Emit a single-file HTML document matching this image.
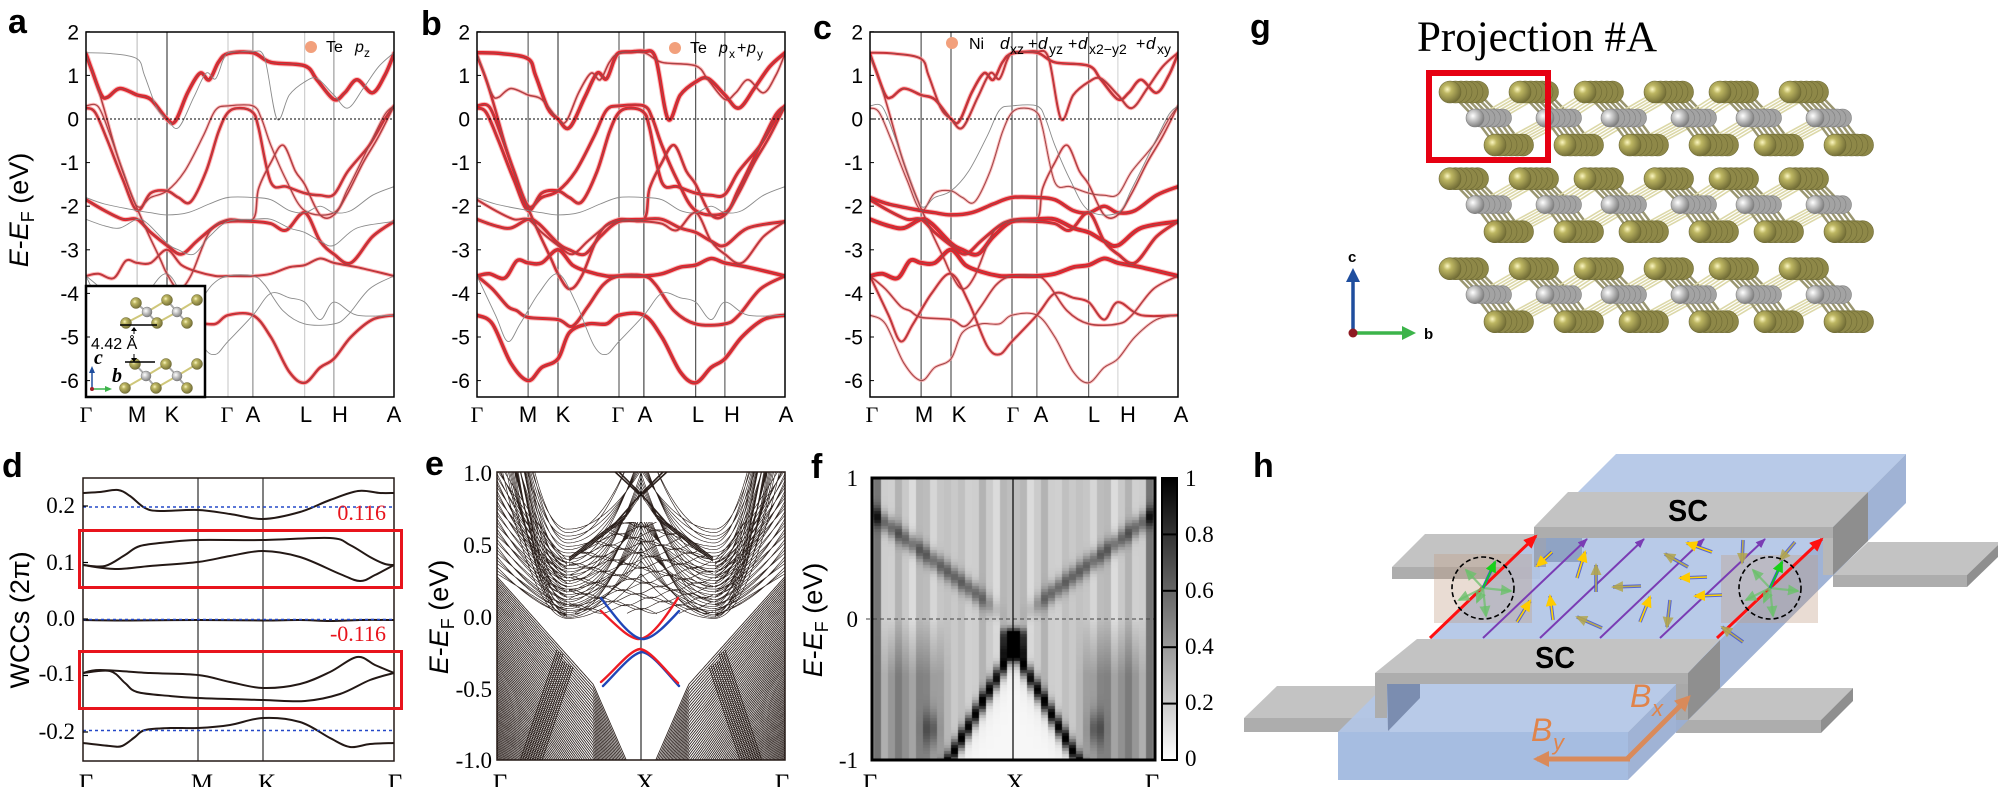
<!DOCTYPE html>
<html><head><meta charset="utf-8"><title>Figure</title>
<style>
html,body{margin:0;padding:0;background:#fff}
body{width:1998px;height:787px;overflow:hidden;position:relative}
#hm{position:absolute;left:872px;top:478px}
#s{position:absolute;left:0;top:0}
</style></head>
<body>
<canvas id="hm" width="283" height="282"></canvas>
<svg id="s" xmlns="http://www.w3.org/2000/svg" width="1998" height="787" viewBox="0 0 1998 787" font-family="'Liberation Sans', sans-serif">
<defs>
 <clipPath id="cA"><rect x="86" y="32" width="308" height="365"/></clipPath>
 <clipPath id="cB"><rect x="477" y="32" width="308" height="365"/></clipPath>
 <clipPath id="cC"><rect x="870" y="32" width="308" height="365"/></clipPath>
 <clipPath id="cD"><rect x="83" y="478" width="311" height="283"/></clipPath>
 <clipPath id="cE"><rect x="497" y="472" width="288" height="288"/></clipPath>
 <linearGradient id="cbg" x1="0" y1="0" x2="0" y2="1"><stop offset="0" stop-color="#000"/><stop offset="1" stop-color="#fff"/></linearGradient>
 <radialGradient id="gTe" cx=".38" cy=".38" r=".65"><stop offset="0" stop-color="#fbf6c0"/><stop offset=".3" stop-color="#bdb662"/><stop offset="1" stop-color="#726d36"/></radialGradient>
 <radialGradient id="gNi" cx=".38" cy=".38" r=".65"><stop offset="0" stop-color="#ffffff"/><stop offset=".35" stop-color="#cfcfcf"/><stop offset="1" stop-color="#7c7c7c"/></radialGradient>
 <marker id="mR" markerUnits="userSpaceOnUse" markerWidth="14" markerHeight="12" refX="12" refY="6" orient="auto" viewBox="0 0 14 12"><path d="M0,0L14,6L0,12z" fill="#ff1010"/></marker>
 <marker id="mP" markerUnits="userSpaceOnUse" markerWidth="10" markerHeight="8" refX="9" refY="4" orient="auto" viewBox="0 0 10 8"><path d="M0,0L10,4L0,8z" fill="#7a3cb4"/></marker>
 <marker id="mY" markerUnits="userSpaceOnUse" markerWidth="12" markerHeight="11" refX="10" refY="5.5" orient="auto" viewBox="0 0 12 11"><path d="M0,0L12,5.5L0,11z" fill="#ffcc00"/></marker>
 <marker id="mO" markerUnits="userSpaceOnUse" markerWidth="12" markerHeight="11" refX="10" refY="5.5" orient="auto" viewBox="0 0 12 11"><path d="M0,0L12,5.5L0,11z" fill="#b3a64e" fill-opacity=".85"/></marker>
 <marker id="mG" markerUnits="userSpaceOnUse" markerWidth="12" markerHeight="11" refX="10" refY="5.5" orient="auto" viewBox="0 0 12 11"><path d="M0,0L12,5.5L0,11z" fill="#18d018"/></marker>
 <marker id="mL" markerUnits="userSpaceOnUse" markerWidth="12" markerHeight="11" refX="10" refY="5.5" orient="auto" viewBox="0 0 12 11"><path d="M0,0L12,5.5L0,11z" fill="#6cc06c" fill-opacity=".8"/></marker>
 <marker id="mOr" markerUnits="userSpaceOnUse" markerWidth="16" markerHeight="16" refX="12" refY="8" orient="auto" viewBox="0 0 16 16"><path d="M0,0L16,8L0,16z" fill="#d98a5a"/></marker>
</defs>

<!-- ============ PANEL A ============ -->
<g stroke-width="1">
 <line x1="137.1" y1="32" x2="137.1" y2="397" stroke="#b8b8b8"/>
 <line x1="167" y1="32" x2="167" y2="397" stroke="#222"/>
 <line x1="228" y1="32" x2="228" y2="397" stroke="#c4c4c4"/>
 <line x1="252.9" y1="32" x2="252.9" y2="397" stroke="#7a7a7a"/>
 <line x1="304.7" y1="32" x2="304.7" y2="397" stroke="#c4c4c4"/>
 <line x1="333.9" y1="32" x2="333.9" y2="397" stroke="#8a8a8a"/>
</g>
<g id="bA" clip-path="url(#cA)"></g>
<line x1="86" y1="119" x2="394" y2="119" stroke="#000" stroke-width="1" stroke-dasharray="2 2"/>
<g>
 <rect x="86" y="286" width="119" height="111" fill="#fff" stroke="#000" stroke-width="2.5"/>
 <g stroke-width="2">
  <line x1="136" y1="303" x2="147" y2="312" stroke="#a9a9a9"/><line x1="147" y1="312" x2="157" y2="323" stroke="#a9a9a9"/>
  <line x1="167" y1="300" x2="177" y2="312" stroke="#a9a9a9"/><line x1="177" y1="312" x2="187" y2="323" stroke="#a9a9a9"/>
  <line x1="126" y1="323" x2="147" y2="312" stroke="#cfc77a"/><line x1="157" y1="323" x2="177" y2="312" stroke="#cfc77a"/>
  <line x1="147" y1="312" x2="167" y2="300" stroke="#cfc77a"/><line x1="177" y1="312" x2="197" y2="300" stroke="#cfc77a"/>
  <line x1="135" y1="364" x2="146" y2="376" stroke="#a9a9a9"/><line x1="146" y1="376" x2="156" y2="388" stroke="#a9a9a9"/>
  <line x1="166" y1="364" x2="177" y2="376" stroke="#a9a9a9"/><line x1="177" y1="376" x2="187" y2="388" stroke="#a9a9a9"/>
  <line x1="125" y1="388" x2="146" y2="376" stroke="#cfc77a"/><line x1="156" y1="388" x2="177" y2="376" stroke="#cfc77a"/>
  <line x1="146" y1="376" x2="166" y2="364" stroke="#cfc77a"/><line x1="177" y1="376" x2="197" y2="364" stroke="#cfc77a"/>
 </g>
 <g fill="url(#gTe)" stroke="#6d6934" stroke-width=".5">
  <circle cx="136" cy="303" r="5.5"/><circle cx="167" cy="300" r="5.5"/><circle cx="197" cy="300" r="5.5"/>
  <circle cx="126" cy="323" r="5.5"/><circle cx="157" cy="323" r="5.5"/><circle cx="187" cy="323" r="5.5"/>
  <circle cx="135" cy="364" r="5.5"/><circle cx="166" cy="364" r="5.5"/><circle cx="197" cy="364" r="5.5"/>
  <circle cx="125" cy="388" r="5.5"/><circle cx="156" cy="388" r="5.5"/><circle cx="187" cy="388" r="5.5"/>
 </g>
 <g fill="url(#gNi)" stroke="#777" stroke-width=".5">
  <circle cx="147" cy="312" r="5"/><circle cx="177" cy="312" r="5"/>
  <circle cx="146" cy="376" r="5"/><circle cx="177" cy="376" r="5"/>
 </g>
 <line x1="120" y1="325" x2="157" y2="325" stroke="#000" stroke-width="1.5"/>
 <line x1="125" y1="362" x2="155" y2="362" stroke="#000" stroke-width="1.5"/>
 <line x1="134" y1="328" x2="134" y2="334" stroke="#000" stroke-width="1"/>
 <path d="M131,331 L134,327 L137,331z" fill="#000"/>
 <line x1="134" y1="354" x2="134" y2="361" stroke="#000" stroke-width="1"/>
 <path d="M131,358 L134,362 L137,358z" fill="#000"/>
 <text x="91" y="349" font-size="16">4.42 Å</text>
 <text x="94" y="364" font-family="'Liberation Serif', serif" font-style="italic" font-weight="bold" font-size="20">c</text>
 <text x="112" y="382" font-family="'Liberation Serif', serif" font-style="italic" font-weight="bold" font-size="20">b</text>
 <line x1="92" y1="389" x2="92" y2="372" stroke="#1f4e9e" stroke-width="1.5"/><path d="M89,373 L92,366 L95,373z" fill="#1f4e9e"/>
 <line x1="92" y1="389" x2="106" y2="389" stroke="#3cb44a" stroke-width="1.5"/><path d="M105,386 L112,389 L105,392z" fill="#3cb44a"/>
 <circle cx="92" cy="389" r="2" fill="#a0202a"/>
</g>
<rect x="86" y="32" width="308" height="365" fill="none" stroke="#000" stroke-width="1.5"/>
<g stroke="#000" stroke-width="1">
 <line x1="86" y1="31.8" x2="90" y2="31.8"/><line x1="86" y1="75.4" x2="90" y2="75.4"/><line x1="86" y1="119" x2="90" y2="119"/><line x1="86" y1="162.6" x2="90" y2="162.6"/><line x1="86" y1="206.2" x2="90" y2="206.2"/><line x1="86" y1="249.8" x2="90" y2="249.8"/><line x1="86" y1="293.4" x2="90" y2="293.4"/><line x1="86" y1="337" x2="90" y2="337"/><line x1="86" y1="380.6" x2="90" y2="380.6"/>
</g>
<g font-size="21" text-anchor="end">
 <text x="79" y="39.3">2</text><text x="79" y="82.9">1</text><text x="79" y="126.5">0</text><text x="79" y="170.1">-1</text><text x="79" y="213.7">-2</text><text x="79" y="257.3">-3</text><text x="79" y="300.9">-4</text><text x="79" y="344.5">-5</text><text x="79" y="388.1">-6</text>
</g>
<g font-size="22" text-anchor="middle">
 <text x="86" y="422" font-family="'Liberation Serif', serif">Γ</text><text x="137" y="422">M</text><text x="172" y="422">K</text><text x="227" y="422" font-family="'Liberation Serif', serif">Γ</text><text x="253" y="422">A</text><text x="306" y="422">L</text><text x="340" y="422">H</text><text x="394" y="422">A</text>
</g>
<text transform="translate(28,210) rotate(-90)" text-anchor="middle" font-size="27"><tspan font-style="italic">E</tspan>-<tspan font-style="italic">E</tspan><tspan font-size="18" dy="6">F</tspan><tspan dy="-6"> (eV)</tspan></text>
<circle cx="311" cy="47" r="6" fill="#f2a07c"/>
<text x="326" y="52" font-size="16">Te</text><text x="355" y="52" font-size="16" font-style="italic">p</text><text x="364" y="57" font-size="12">z</text>
<text x="8" y="33" font-size="34" font-weight="bold">a</text>

<!-- ============ PANEL B ============ -->
<g stroke-width="1">
 <line x1="528.1" y1="32" x2="528.1" y2="397" stroke="#444"/>
 <line x1="558" y1="32" x2="558" y2="397" stroke="#222"/>
 <line x1="619" y1="32" x2="619" y2="397" stroke="#444"/>
 <line x1="643.9" y1="32" x2="643.9" y2="397" stroke="#222"/>
 <line x1="695.7" y1="32" x2="695.7" y2="397" stroke="#333"/>
 <line x1="724.9" y1="32" x2="724.9" y2="397" stroke="#444"/>
</g>
<g id="bB" clip-path="url(#cB)"></g>
<line x1="477" y1="119" x2="785" y2="119" stroke="#000" stroke-width="1" stroke-dasharray="2 2"/>
<rect x="477" y="32" width="308" height="365" fill="none" stroke="#000" stroke-width="1.5"/>
<g stroke="#000" stroke-width="1">
 <line x1="477" y1="31.8" x2="481" y2="31.8"/><line x1="477" y1="75.4" x2="481" y2="75.4"/><line x1="477" y1="119" x2="481" y2="119"/><line x1="477" y1="162.6" x2="481" y2="162.6"/><line x1="477" y1="206.2" x2="481" y2="206.2"/><line x1="477" y1="249.8" x2="481" y2="249.8"/><line x1="477" y1="293.4" x2="481" y2="293.4"/><line x1="477" y1="337" x2="481" y2="337"/><line x1="477" y1="380.6" x2="481" y2="380.6"/>
</g>
<g font-size="21" text-anchor="end">
 <text x="470" y="39.3">2</text><text x="470" y="82.9">1</text><text x="470" y="126.5">0</text><text x="470" y="170.1">-1</text><text x="470" y="213.7">-2</text><text x="470" y="257.3">-3</text><text x="470" y="300.9">-4</text><text x="470" y="344.5">-5</text><text x="470" y="388.1">-6</text>
</g>
<g font-size="22" text-anchor="middle">
 <text x="477" y="422" font-family="'Liberation Serif', serif">Γ</text><text x="528" y="422">M</text><text x="563" y="422">K</text><text x="618" y="422" font-family="'Liberation Serif', serif">Γ</text><text x="645" y="422">A</text><text x="698" y="422">L</text><text x="732" y="422">H</text><text x="786" y="422">A</text>
</g>
<circle cx="675" cy="48" r="6" fill="#f2a07c"/>
<text x="690" y="53" font-size="16">Te</text><text x="719" y="53" font-size="16" font-style="italic">p</text><text x="729" y="58" font-size="12">x</text><text x="737" y="53" font-size="16">+</text><text x="747" y="53" font-size="16" font-style="italic">p</text><text x="757" y="58" font-size="12">y</text>
<text x="421" y="35" font-size="34" font-weight="bold">b</text>

<!-- ============ PANEL C ============ -->
<g stroke-width="1">
 <line x1="921.1" y1="32" x2="921.1" y2="397" stroke="#333"/>
 <line x1="951" y1="32" x2="951" y2="397" stroke="#333"/>
 <line x1="1012" y1="32" x2="1012" y2="397" stroke="#333"/>
 <line x1="1036.9" y1="32" x2="1036.9" y2="397" stroke="#555"/>
 <line x1="1088.7" y1="32" x2="1088.7" y2="397" stroke="#444"/>
 <line x1="1117.9" y1="32" x2="1117.9" y2="397" stroke="#cfcfcf"/>
</g>
<g id="bC" clip-path="url(#cC)"></g>
<line x1="870" y1="119" x2="1178" y2="119" stroke="#000" stroke-width="1" stroke-dasharray="2 2"/>
<rect x="870" y="32" width="308" height="365" fill="none" stroke="#000" stroke-width="1.5"/>
<g stroke="#000" stroke-width="1">
 <line x1="870" y1="31.8" x2="874" y2="31.8"/><line x1="870" y1="75.4" x2="874" y2="75.4"/><line x1="870" y1="119" x2="874" y2="119"/><line x1="870" y1="162.6" x2="874" y2="162.6"/><line x1="870" y1="206.2" x2="874" y2="206.2"/><line x1="870" y1="249.8" x2="874" y2="249.8"/><line x1="870" y1="293.4" x2="874" y2="293.4"/><line x1="870" y1="337" x2="874" y2="337"/><line x1="870" y1="380.6" x2="874" y2="380.6"/>
</g>
<g font-size="21" text-anchor="end">
 <text x="863" y="39.3">2</text><text x="863" y="82.9">1</text><text x="863" y="126.5">0</text><text x="863" y="170.1">-1</text><text x="863" y="213.7">-2</text><text x="863" y="257.3">-3</text><text x="863" y="300.9">-4</text><text x="863" y="344.5">-5</text><text x="863" y="388.1">-6</text>
</g>
<g font-size="22" text-anchor="middle">
 <text x="872" y="422" font-family="'Liberation Serif', serif">Γ</text><text x="924" y="422">M</text><text x="959" y="422">K</text><text x="1013" y="422" font-family="'Liberation Serif', serif">Γ</text><text x="1041" y="422">A</text><text x="1094" y="422">L</text><text x="1128" y="422">H</text><text x="1181" y="422">A</text>
</g>
<circle cx="952" cy="43" r="6" fill="#f2a07c"/>
<g font-size="16">
 <text x="969" y="49">Ni</text>
 <text x="1000" y="49" font-style="italic" font-size="17">d</text><text x="1010" y="54" font-size="14">xz</text>
 <text x="1028" y="49">+</text>
 <text x="1038" y="49" font-style="italic" font-size="17">d</text><text x="1049" y="54" font-size="14">yz</text>
 <text x="1068" y="49">+</text>
 <text x="1078" y="49" font-style="italic" font-size="17">d</text><text x="1089" y="54" font-size="14">x2−y2</text>
 <text x="1136" y="49">+</text>
 <text x="1146" y="49" font-style="italic" font-size="17">d</text><text x="1157" y="54" font-size="14">xy</text>
</g>
<text x="813" y="39" font-size="34" font-weight="bold">c</text>

<!-- ============ PANEL D ============ -->
<line x1="198" y1="478" x2="198" y2="761" stroke="#000" stroke-width="1"/>
<line x1="263" y1="478" x2="263" y2="761" stroke="#000" stroke-width="1"/>
<g id="gD" clip-path="url(#cD)"></g>
<g stroke="#2348c8" stroke-width="1.4" stroke-dasharray="3 3">
 <line x1="83" y1="507" x2="394" y2="507"/><line x1="83" y1="619.5" x2="394" y2="619.5"/><line x1="83" y1="730.5" x2="394" y2="730.5"/>
</g>
<rect x="83" y="478" width="311" height="283" fill="none" stroke="#231815" stroke-width="1.5"/>
<g stroke="#000" stroke-width="1.2">
 <line x1="83" y1="506" x2="88" y2="506"/><line x1="83" y1="562.5" x2="88" y2="562.5"/><line x1="83" y1="619" x2="88" y2="619"/><line x1="83" y1="675.5" x2="88" y2="675.5"/><line x1="83" y1="732" x2="88" y2="732"/>
</g>
<rect x="79.5" y="530.5" width="322" height="57" fill="none" stroke="#e8141c" stroke-width="3"/>
<rect x="79.5" y="651.5" width="322" height="57" fill="none" stroke="#e8141c" stroke-width="3"/>
<g font-family="'Liberation Serif', serif" font-size="23" text-anchor="end">
 <text x="75" y="513">0.2</text><text x="75" y="570">0.1</text><text x="75" y="626">0.0</text><text x="75" y="681">-0.1</text><text x="75" y="739">-0.2</text>
</g>
<g font-family="'Liberation Serif', serif" font-size="22" fill="#e8141c" text-anchor="end">
 <text x="386" y="520">0.116</text><text x="386" y="641">-0.116</text>
</g>
<g font-family="'Liberation Serif', serif" font-size="25" text-anchor="middle">
 <text x="86" y="791">Γ</text><text x="202" y="791">M</text><text x="267" y="791">K</text><text x="395" y="791">Γ</text>
</g>
<text transform="translate(29,620) rotate(-90)" text-anchor="middle" font-size="27">WCCs (2π)</text>
<text x="2" y="477" font-size="34" font-weight="bold">d</text>

<!-- ============ PANEL E ============ -->
<g id="gE" clip-path="url(#cE)"></g>
<line x1="641" y1="472" x2="641" y2="760" stroke="#000" stroke-width="1"/>
<g fill="none" stroke-width="2.4" stroke-linecap="round">
 <path d="M601,611 C615,624 628,638 638,639 C650,640 665,618 678,598" stroke="#ee1c24"/>
 <path d="M601,598 C616,618 632,640 644,639 C654,638 667,624 679,611" stroke="#2046b8"/>
 <path d="M603,686 C617,672 632,653 642,652 C652,653 667,673 679,686" stroke="#2046b8"/>
 <path d="M601,682 C615,670 630,650 640,649 C650,650 665,670 678,683" stroke="#ee1c24"/>
</g>
<rect x="497" y="472" width="288" height="288" fill="none" stroke="#231815" stroke-width="1.5"/>
<g font-family="'Liberation Serif', serif" font-size="23" text-anchor="end">
 <text x="492" y="481">1.0</text><text x="492" y="553">0.5</text><text x="492" y="625">0.0</text><text x="492" y="697">-0.5</text><text x="492" y="768">-1.0</text>
</g>
<g font-family="'Liberation Serif', serif" font-size="25" text-anchor="middle">
 <text x="500" y="791">Γ</text><text x="645" y="791">X</text><text x="782" y="791">Γ</text>
</g>
<text transform="translate(448,617) rotate(-90)" text-anchor="middle" font-size="27"><tspan font-style="italic">E</tspan>-<tspan font-style="italic">E</tspan><tspan font-size="18" dy="6">F</tspan><tspan dy="-6"> (eV)</tspan></text>
<text x="425" y="475" font-size="34" font-weight="bold">e</text>

<!-- ============ PANEL F ============ -->
<line x1="866" y1="619" x2="1155" y2="619" stroke="#444" stroke-width="1" stroke-dasharray="4 3"/>
<line x1="1013" y1="478" x2="1013" y2="760" stroke="#000" stroke-width="1.2"/>
<rect x="872" y="478" width="283" height="282" fill="none" stroke="#000" stroke-width="3"/>
<rect x="1162" y="478" width="15" height="282" fill="url(#cbg)" stroke="#000" stroke-width="2"/>
<g stroke="#000" stroke-width="2">
 <line x1="1162" y1="534.4" x2="1177" y2="534.4"/><line x1="1162" y1="590.8" x2="1177" y2="590.8"/><line x1="1162" y1="647.2" x2="1177" y2="647.2"/><line x1="1162" y1="703.6" x2="1177" y2="703.6"/>
</g>
<g font-family="'Liberation Serif', serif" font-size="23">
 <text x="1185" y="486">1</text><text x="1185" y="542">0.8</text><text x="1185" y="598">0.6</text><text x="1185" y="654">0.4</text><text x="1185" y="710">0.2</text><text x="1185" y="766">0</text>
</g>
<g font-family="'Liberation Serif', serif" font-size="23" text-anchor="end">
 <text x="858" y="486">1</text><text x="858" y="627">0</text><text x="858" y="768">-1</text>
</g>
<g font-family="'Liberation Serif', serif" font-size="25" text-anchor="middle">
 <text x="870" y="791">Γ</text><text x="1015" y="791">X</text><text x="1152" y="791">Γ</text>
</g>
<text transform="translate(822,620) rotate(-90)" text-anchor="middle" font-size="27"><tspan font-style="italic">E</tspan>-<tspan font-style="italic">E</tspan><tspan font-size="18" dy="6">F</tspan><tspan dy="-6"> (eV)</tspan></text>
<text x="811" y="478" font-size="34" font-weight="bold">f</text>

<!-- ============ PANEL G ============ -->
<text x="1250" y="38" font-size="34" font-weight="bold">g</text>
<text x="1417" y="51" font-family="'Liberation Serif', serif" font-size="43">Projection #A</text>
<g id="gG"></g>
<rect x="1429" y="73" width="119" height="87" fill="none" stroke="#e60012" stroke-width="6"/>
<line x1="1353" y1="333" x2="1353" y2="280" stroke="#1f4e9e" stroke-width="3.5"/>
<path d="M1346,282 L1353,268 L1360,282z" fill="#1f4e9e"/>
<line x1="1353" y1="333" x2="1404" y2="333" stroke="#3cb44a" stroke-width="3.5"/>
<path d="M1402,326 L1416,333 L1402,340z" fill="#3cb44a"/>
<circle cx="1353" cy="333" r="4.5" fill="#8e1a22"/>
<text x="1348" y="262" font-size="15" font-weight="bold">c</text>
<text x="1424" y="339" font-size="15" font-weight="bold">b</text>

<!-- ============ PANEL H ============ -->
<text x="1253" y="477" font-size="34" font-weight="bold">h</text>
<g>
 <polygon points="1833,575 1868,542 1998,542 1998,545 1967,575" fill="#c3c3c3"/>
 <polygon points="1967,575 1998,545 1998,557 1967,587" fill="#8f8f8f"/>
 <rect x="1833" y="575" width="134" height="12" fill="#adadad"/>
 <polygon points="1392,567 1425,534 1540,534 1540,567" fill="#c3c3c3"/>
 <rect x="1392" y="567" width="148" height="12" fill="#adadad"/>
 <polygon points="1244,718 1277,686 1390,686 1390,718" fill="#c3c3c3"/>
 <rect x="1244" y="718" width="146" height="14" fill="#adadad"/>
 <polygon points="1688,720 1720,688 1853,688 1821,720" fill="#c3c3c3"/>
 <polygon points="1821,720 1853,688 1853,701 1821,733" fill="#8f8f8f"/>
 <rect x="1676" y="720" width="145" height="13" fill="#adadad"/>
 <polygon points="1338,732 1628,732 1906,454 1616,454" fill="#b3c6e6" fill-opacity=".93"/>
 <polygon points="1628,732 1906,454 1906,503 1628,780" fill="#9bafd3" fill-opacity=".95"/>
 <rect x="1338" y="732" width="290" height="48" fill="#a1b9df" fill-opacity=".95"/>
 <polygon points="1688,673 1720,640 1720,688 1688,720" fill="#8f8f8f"/>
 <polygon points="1375,673 1417,639 1720,639 1688,673" fill="#c3c3c3"/>
 <rect x="1375" y="673" width="313" height="11" fill="#adadad"/>
 <rect x="1375" y="684" width="12" height="34" fill="#adadad"/>
 <rect x="1676" y="684" width="12" height="36" fill="#a9a9a9"/>
 <polygon points="1387,684 1420,684 1420,698 1388,731" fill="#7b8db0"/>
 <polygon points="1833,527 1868,492 1868,541 1833,575" fill="#8e8e8e"/>
 <polygon points="1534,527 1568,492 1868,492 1833,527" fill="#c3c3c3"/>
 <rect x="1534" y="527" width="299" height="11" fill="#adadad"/>
 <rect x="1823" y="538" width="10" height="37" fill="#b8b8b8"/>
 <rect x="1534" y="538" width="12" height="29" fill="#9aa3b6"/>
 <polygon points="1546,538 1582,538 1582,562 1546,562" fill="#7f93b5" fill-opacity=".7"/>
</g>
<rect x="1434" y="554" width="98" height="69" fill="#bf9a80" fill-opacity=".35"/>
<rect x="1721" y="555" width="97" height="68" fill="#bf9a80" fill-opacity=".35"/>
<g stroke="#7a3cb4" stroke-width="2" marker-end="url(#mP)">
 <line x1="1483" y1="638" x2="1587" y2="539"/><line x1="1540" y1="638" x2="1644" y2="539"/><line x1="1600" y1="638" x2="1704" y2="539"/><line x1="1660" y1="638" x2="1765" y2="539"/>
</g>
<g stroke="#ff1010" stroke-width="3" marker-end="url(#mR)">
 <line x1="1430" y1="638" x2="1536" y2="536"/><line x1="1717" y1="638" x2="1822" y2="539"/>
</g>
<g id="gH"></g>
<circle cx="1483" cy="588" r="31" fill="none" stroke="#000" stroke-width="1.6" stroke-dasharray="5 3"/>
<circle cx="1770" cy="588" r="31" fill="none" stroke="#000" stroke-width="1.6" stroke-dasharray="5 3"/>
<g stroke="#d98a5a" stroke-width="5" marker-end="url(#mOr)">
 <line x1="1630" y1="759" x2="1537" y2="759"/><line x1="1627" y1="759" x2="1688" y2="698"/>
</g>
<g fill="#e0844a" font-style="italic">
 <text x="1630" y="707" font-size="32">B</text><text x="1652" y="716" font-size="22">x</text>
 <text x="1531" y="741" font-size="32">B</text><text x="1553" y="750" font-size="22">y</text>
</g>
<text x="1688" y="521" font-size="31" font-weight="bold" text-anchor="middle" textLength="40" lengthAdjust="spacingAndGlyphs">SC</text>
<text x="1555" y="668" font-size="31" font-weight="bold" text-anchor="middle" textLength="40" lengthAdjust="spacingAndGlyphs">SC</text>
</svg>

<script>
(function(){
var NS='http://www.w3.org/2000/svg';
function el(tag,a,p){var e=document.createElementNS(NS,tag);for(var k in a)e.setAttribute(k,a[k]);p.appendChild(e);return e;}
function cr(pts){var d='M'+pts[0][0].toFixed(1)+','+pts[0][1].toFixed(1);for(var i=0;i<pts.length-1;i++){var p0=pts[i-1]||pts[i],p1=pts[i],p2=pts[i+1],p3=pts[i+2]||pts[i+1];var c1x=p1[0]+(p2[0]-p0[0])/6,c1y=p1[1]+(p2[1]-p0[1])/6,c2x=p2[0]-(p3[0]-p1[0])/6,c2y=p2[1]-(p3[1]-p1[1])/6;d+='C'+c1x.toFixed(1)+','+c1y.toFixed(1)+' '+c2x.toFixed(1)+','+c2y.toFixed(1)+' '+p2[0].toFixed(1)+','+p2[1].toFixed(1);}return d;}

/* ---------- bands a,b,c ---------- */
var B=[
[[0,1.52],[.08,1.5],[.166,1.38],[.19,1.0],[.23,.25],[.263,0],[.3,-.2],[.35,.5],[.39,1.05],[.42,.92],[.445,1.35],[.461,1.52],[.5,1.54],[.542,1.55],[.58,1.4],[.62,0],[.66,.55],[.71,.85],[.75,.93],[.805,.55],[.85,.25],[.9,.7],[.95,1.2],[1,1.52]],
[[0,1.5],[.02,1.1],[.05,.55],[.07,.5],[.11,.7],[.166,.55],[.21,.45],[.263,0],[.29,-.05],[.33,.6],[.37,1.05],[.4,.9],[.43,1.3],[.461,1.5],[.542,1.52],[.6,1.3],[.71,1.22],[.75,.9],[.805,.45],[.84,.6],[.88,.9],[.93,.6],[.97,1.0],[1,1.5]],
[[0,.3],[.04,.28],[.08,-.4],[.12,-1.2],[.166,-2.0],[.21,-1.8],[.263,-1.65],[.32,-1.2],[.38,-.4],[.42,.2],[.461,.3],[.542,.3],[.57,0],[.6,-.6],[.65,-1.4],[.71,-2.1],[.805,-2.15],[.85,-1.6],[.92,-.6],[.97,.1],[1,.3]],
[[0,.25],[.03,.15],[.07,-.5],[.12,-1.4],[.166,-2.1],[.21,-1.7],[.263,-1.65],[.3,-1.8],[.34,-1.9],[.39,-1.2],[.43,-.3],[.461,.15],[.5,.25],[.542,.15],[.56,-.2],[.6,-1.45],[.65,-1.55],[.71,-1.7],[.76,-1.75],[.805,-1.73],[.85,-1.2],[.92,-.6],[.97,0],[1,.3]],
[[0,-1.8],[.06,-1.95],[.166,-2.1],[.21,-2.15],[.263,-2.2],[.33,-2.15],[.4,-1.95],[.461,-1.8],[.542,-1.8],[.6,-1.85],[.66,-2.1],[.71,-2.15],[.76,-2.0],[.805,-2.15],[.86,-2.1],[.93,-1.75],[1,-1.55]],
[[0,-1.85],[.06,-2.1],[.12,-2.3],[.166,-2.3],[.21,-2.6],[.263,-2.9],[.31,-3.1],[.36,-2.8],[.42,-2.45],[.461,-2.35],[.542,-2.35],[.6,-2.4],[.65,-2.55],[.71,-2.15],[.76,-2.8],[.805,-3.1],[.86,-3.3],[.93,-2.7],[1,-2.35]],
[[0,-2.3],[.06,-2.45],[.11,-2.5],[.166,-2.3],[.2,-2.4],[.263,-2.85],[.3,-3.0],[.35,-3.1],[.4,-2.7],[.461,-2.35],[.542,-2.3],[.6,-2.3],[.66,-2.5],[.71,-2.6],[.76,-2.8],[.805,-2.9],[.88,-2.5],[1,-2.35]],
[[0,-3.6],[.04,-3.55],[.09,-3.65],[.13,-3.25],[.166,-3.3],[.21,-3.3],[.263,-3.0],[.31,-3.35],[.36,-3.5],[.42,-3.6],[.461,-3.6],[.542,-3.6],[.6,-3.55],[.66,-3.4],[.71,-3.35],[.76,-3.2],[.805,-3.3],[.88,-3.4],[1,-3.6]],
[[0,-3.6],[.05,-3.9],[.1,-4.3],[.13,-4.4],[.166,-4.55],[.263,-4.6],[.31,-4.75],[.36,-4.3],[.41,-3.8],[.461,-3.6],[.542,-3.6],[.58,-3.8],[.64,-4.4],[.71,-4.7],[.805,-4.7],[.85,-4.5],[.92,-3.9],[1,-3.6]],
[[0,-4.5],[.05,-4.7],[.11,-5.6],[.166,-6.0],[.21,-5.7],[.263,-5.5],[.3,-4.9],[.36,-4.7],[.42,-4.7],[.461,-4.5],[.542,-4.5],[.6,-5.0],[.66,-5.8],[.71,-6.05],[.76,-5.7],[.805,-5.5],[.86,-5.0],[.93,-4.6],[1,-4.5]],
[[0,-3.6],[.06,-4.5],[.1,-5.1],[.14,-4.7],[.2,-4.0],[.263,-3.55],[.32,-4.2],[.38,-5.2],[.42,-5.4],[.461,-5.1],[.542,-4.5],[.6,-4.0],[.66,-4.1],[.71,-4.2],[.76,-4.6],[.805,-4.2],[.88,-4.5],[1,-4.5]],
[[0,1.45],[.03,.9],[.06,.2],[.1,-.8],[.14,-1.6],[.166,-2.05],[.2,-2.6],[.24,-3.2],[.263,-3.55],[.3,-3.9],[.34,-3.6],[.4,-2.6],[.461,-2.3],[.542,-2.3],[.56,-1.6],[.6,-1.0],[.64,-.6],[.68,-1.2],[.71,-1.5],[.76,-2.2],[.805,-2.2],[.85,-1.7],[.9,-1.0],[.95,-.4],[1,.3]]
];
var P=[['bA',86,[0,3.5,1.2,2.5,0,3,0,2,0,2.5,0,1.5]],['bB',477,[3.5,1.5,3,3,0,2,3,3.5,3,3.5,0,2.5]],['bC',870,[2,2.5,0,1,3.5,3,4,4,1.5,1,2,1.5]]];
P.forEach(function(pp){
 var g=document.getElementById(pp[0]),x0=pp[1],w=pp[2];
 var ds=B.map(function(b){return cr(b.map(function(p){return [x0+308*p[0],119-43.6*p[1]];}));});
 ds.forEach(function(d,i){if(w[i]>0)el('path',{d:d,fill:'none',stroke:'#f5a0a0','stroke-width':w[i]+2,'stroke-opacity':.65,'stroke-linecap':'round'},g);});
 ds.forEach(function(d,i){if(w[i]>0)el('path',{d:d,fill:'none',stroke:'#e3222b','stroke-width':w[i],'stroke-linecap':'round'},g);});
 ds.forEach(function(d,i){el('path',{d:d,fill:'none',stroke:w[i]>0?'#8a5555':'#8a8a8a','stroke-width':w[i]>0?.7:.9},g);});
});

/* ---------- WCC panel d ---------- */
var WC=[
[[83,493],[100,492],[118,490],[130,496],[145,508],[160,511],[198,510],[230,514],[263,519],[300,512],[330,500],[358,491],[380,493],[394,493]],
[[83,565],[105,566],[125,555],[140,546],[170,542],[198,540],[263,540],[330,538],[350,545],[370,557],[385,564],[394,565]],
[[83,565],[115,569],[150,566],[198,562],[230,556],[263,551],[300,557],[340,574],[360,581],[375,575],[394,565]],
[[83,620],[130,620.5],[198,620],[263,620.5],[300,620],[330,621],[360,620],[394,620]],
[[83,673],[100,670],[150,673],[198,675],[230,682],[263,688],[300,684],[330,672],[357,657],[375,665],[394,673]],
[[83,673],[110,671],[125,683],[137,692],[170,696],[198,698],[263,700],[305,701],[340,694],[370,680],[394,673]],
[[83,743],[110,746],[122,746],[135,737],[145,730],[170,728],[198,728],[230,725],[263,718],[300,722],[330,738],[350,747],[370,744],[394,743]]
];
var gD=document.getElementById('gD');
WC.forEach(function(c){el('path',{d:cr(c),fill:'none',stroke:'#231815','stroke-width':2},gD);});

/* ---------- panel e ---------- */
var gE=document.getElementById('gE');
function ey(E){return 617-144*E;}
function pl(fn){var s='',pen=false;for(var px=497;px<=785;px+=2){var u=Math.abs(px-641)/144;var E=fn(u,px);if(E===null||E>1.1||E<-1.1){pen=false;continue;}s+=(pen?'L':'M')+px+','+ey(E).toFixed(1);pen=true;}return s;}
function V(u){return u<0.1?0.69:0.69-(u-0.1)*0.756;}
var D='',DV='',DVal='';
for(var i=0;i<34;i++){(function(i){var e=-0.01+0.62*Math.pow(i/33,1.3),A=5+4*((i*0.618)%1),Cc=1.2+2.0*((i*0.43)%1);D+=pl(function(u){return u>=0.51?e+A*(u-0.51)*(u-0.51):e+Cc*(0.51-u)*(0.51-u);});})(i);}
for(var k=0;k<34;k++){(function(k){var g=0.3+k*0.024,h=0.0+k*0.012,p=1+((k*0.37)%1)*0.8;D+=pl(function(u){return u>=0.51?h+(g-h)*Math.pow((u-0.51)/0.49,p):null;});})(k);}
for(var j=0;j<26;j++){(function(j){var Ej=0.03+j*0.026;D+=pl(function(u,px){if(u>0.5)return null;var E=Ej+0.03*Math.sin(px*0.12+j*1.7);return (E<V(u)&&E>0.02)?E:null;});})(j);}
function T(u){return u>=0.33?-0.47+(u-0.33)*1.12:-0.47-(0.33-u)*2.3;}
for(var m=0;m<90;m++){(function(m){var dk=m*0.016;DVal+=pl(function(u){return T(u)-dk*(1+0.6*(1-u));});})(m);}
for(var k2=0;k2<10;k2++){(function(k){DVal+=pl(function(u){var E=-0.16-0.05*k-3*(u-0.56);return (u>0.3&&E<T(u)-0.02)?E:null;});})(k2);}
el('path',{d:D,fill:'none',stroke:'#2a1f1b','stroke-width':.62},gE);
el('path',{d:DVal,fill:'none',stroke:'#2a1f1b','stroke-width':.85},gE);
for(var q=0;q<3;q++){DV+=pl(function(u){return u<0.51?V(u)+q*0.012:null;});}
el('path',{d:DV,fill:'none',stroke:'#2a1f1b','stroke-width':1.2},gE);
el('polygon',{points:'623,522 659,522 641,496',fill:'#fff'},gE);
el('path',{d:'M641,494 L617,470 M641,494 L665,470 M641,494 L611,528 M641,494 L671,528 M639,494 L613,470 M643,494 L669,470',fill:'none',stroke:'#2a1f1b','stroke-width':1.6},gE);

/* ---------- panel f heatmap ---------- */
var cv=document.getElementById('hm');
if(cv&&cv.getContext){
 var cx=cv.getContext('2d');var Wd=283,Ht=282;var im=cx.createImageData(Wd,Ht);
 function ga(d,s){return Math.exp(-d*d/(2*s*s));}
 function cl(v,a,b){return Math.max(a,Math.min(b,v));}
 for(var py=0;py<Ht;py++){
  var E=1-2*(Math.floor(py/3)*3+1.5)/Ht;
  for(var px=0;px<Wd;px++){
   var dx=Math.abs(px+0.5-141.5);var c=Math.floor(dx/7);var ax=cl((c*7+3.5)/141.5,0,1);
   var v=0.22+0.05*Math.sin(c*2.1)+0.04*Math.cos(c*4.7+0.5);
   var Eu=0.78*ax-0.03,El=-0.2-1.75*ax;
   v+=0.4*ga(E-Eu,0.05)*cl((ax-0.06)/0.2,0,1);
   v+=0.22*cl(-E/0.4,0,1)*cl((ax-0.45)/0.1,0,1)*cl((0.97-ax)/0.1,0,1);
   v+=0.3*Math.exp(-Math.pow((ax-0.59)/0.05,2)-Math.pow((E+0.78)/0.12,2));
   v+=0.3*ga(ax-0.97,0.02);
   if(E<El){v=0.03+0.2*Math.exp(-(El-E)/0.1);}
   v+=0.8*ga(E-El,0.055);
   v+=Math.exp(-Math.pow(ax/0.085,4)-Math.pow((E+0.17)/0.1,4));
   v=cl(v,0,1);var gr=Math.round(255*(1-v));
   var qq=(py*Wd+px)*4;im.data[qq]=gr;im.data[qq+1]=gr;im.data[qq+2]=gr;im.data[qq+3]=255;
  }
 }
 cx.putImageData(im,0,0);
}

/* ---------- panel g crystal ---------- */
var gG=document.getElementById('gG');
var XT=[1450,1520,1585,1655,1720,1790],OY=[0,86.7,176.7];
OY.forEach(function(oy){
 XT.forEach(function(xt,n){
  for(var c=5;c>=0;c--){var o=c*5.5;
   el('line',{x1:xt+o,y1:92+oy,x2:xt+25+o,y2:118+oy,stroke:'#9a9670','stroke-width':2.5},gG);
   el('line',{x1:xt+25+o,y1:118+oy,x2:xt+45+o,y2:145+oy,stroke:'#9a9670','stroke-width':2.5},gG);
   if(n<5){var xn=XT[n+1]+o;
    el('line',{x1:xt+25+o,y1:118+oy,x2:xn,y2:92+oy,stroke:'#dcd8a8','stroke-width':1.6},gG);
    el('line',{x1:xt+45+o,y1:145+oy,x2:xn+25,y2:118+oy,stroke:'#dcd8a8','stroke-width':1.6},gG);}
  }
 });
 XT.forEach(function(xt){
  for(var c=5;c>=0;c--){var o=c*5.5,f=(c===0);
   [[xt+o,92+oy,11,1],[xt+25+o,118+oy,9,0],[xt+45+o,145+oy,11,1]].forEach(function(a){
    el('circle',{cx:a[0],cy:a[1],r:a[2],fill:f?(a[3]?'url(#gTe)':'url(#gNi)'):(a[3]?'#8e8848':'#a3a3a3'),stroke:a[3]?'#6d6934':'#808080','stroke-width':.6},gG);
   });
  }
 });
});

/* ---------- panel h arrows ---------- */
var gH=document.getElementById('gH');
var AR=[[1552,552,1537,566,'y'],[1577,578,1585,552,'y'],[1596,592,1596,565,'o'],[1641,586,1613,587,'o'],[1553,620,1550,596,'y'],[1517,622,1530,601,'y'],[1602,628,1577,617,'o'],[1640,622,1650,597,'y'],[1670,600,1667,627,'o'],[1688,567,1665,554,'o'],[1712,552,1687,543,'y'],[1707,577,1680,578,'y'],[1722,595,1695,596,'y'],[1743,540,1742,563,'o'],[1795,542,1780,560,'o'],[1743,642,1722,627,'o']];
AR.forEach(function(a){
 el('line',{x1:a[0],y1:a[1],x2:a[2],y2:a[3],stroke:'#3d4bd0','stroke-width':3.6,'stroke-opacity':.8},gH);
 el('line',{x1:a[0],y1:a[1],x2:a[2],y2:a[3],stroke:a[4]==='y'?'#ffd400':'#b8ab52','stroke-width':1.6,'marker-end':a[4]==='y'?'url(#mY)':'url(#mO)'},gH);
});
[[1483,588],[1770,588]].forEach(function(cc){
 [[-17,-18],[28,3],[3,28],[-24,12],[-6,14]].forEach(function(d){
  el('line',{x1:cc[0],y1:cc[1],x2:cc[0]+d[0],y2:cc[1]+d[1],stroke:'#6cc06c','stroke-width':2.2,'stroke-opacity':.75,'marker-end':'url(#mL)'},gH);
 });
 el('line',{x1:cc[0],y1:cc[1],x2:cc[0]+12,y2:cc[1]-26,stroke:'#2a5ad0','stroke-width':3},gH);
 el('line',{x1:cc[0],y1:cc[1],x2:cc[0]+12,y2:cc[1]-26,stroke:'#18d018','stroke-width':1.6,'marker-end':'url(#mG)'},gH);
});
})();
</script>
</body></html>
